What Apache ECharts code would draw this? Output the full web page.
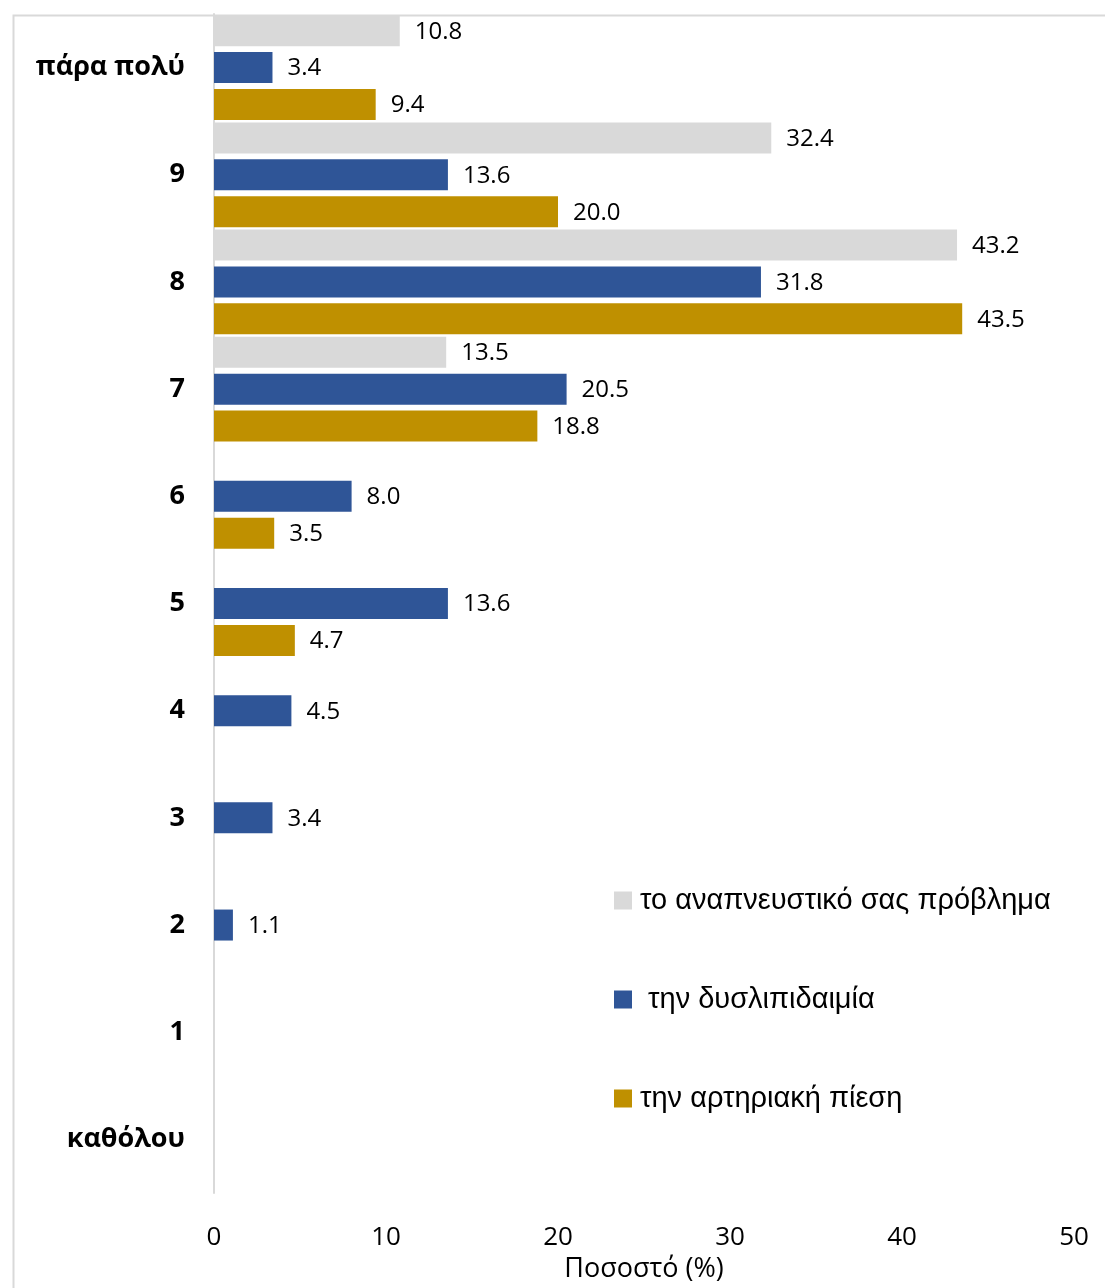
<!DOCTYPE html>
<html>
<head>
<meta charset="utf-8">
<script src="https://cdn.jsdelivr.net/npm/echarts@6/dist/echarts.min.js"></script>
<style>
  html, body { margin: 0; padding: 0; background: #fff; }
  #chart { width: 1105px; height: 1288px; }
</style>
</head>
<body>
<div id="chart"></div>
<script>
// κατηγορίες από πάνω προς τα κάτω
var categories = ['πάρα πολύ', '9', '8', '7', '6', '5', '4', '3', '2', '1', 'καθόλου']
var seriesNames = ['το αναπνευστικό σας πρόβλημα', ' την δυσλιπιδαιμία', 'την αρτηριακή πίεση']
var respiratory = [10.8, 32.4, 43.2, 13.5, null, null, null, null, null, null, null]
var dyslipidemia = [3.4, 13.6, 31.8, 20.5, 8.0, 13.6, 4.5, 3.4, 1.1, null, null]
var pressure = [9.4, 20.0, 43.5, 18.8, 3.5, 4.7, null, null, null, null, null]
var colors = ['#d9d9d9', '#2f5597', '#bf9000']

var chart = echarts.init(document.getElementById('chart'))

function makeSeries (name, data, color) {
  return {
    name: name,
    type: 'bar',
    data: data,
    barWidth: 31,
    barGap: '19%',
    itemStyle: { color: color },
    label: {
      show: true,
      position: 'right',
      distance: 15,
      offset: [0, 1],
      color: '#000',
      fontSize: 24,
      fontFamily: 'Open Sans',
      formatter: function (p) {
        return p.value == null ? '' : p.value.toFixed(1)
      }
    }
  }
}

var options = {
  animation: false,
  backgroundColor: '#fff',
  // πλαίσιο γραφήματος
  graphic: [{
    type: 'rect',
    left: 11,
    top: 13,
    shape: { width: 1200, height: 1400 },
    style: { fill: 'none', stroke: '#d9d9d9', lineWidth: 2 },
    silent: true
  }],
  grid: {
    left: 214,
    right: 31,
    top: 14,
    bottom: 95
  },
  legend: {
    orient: 'vertical',
    left: 609,
    top: 881,
    itemWidth: 18,
    itemHeight: 18,
    itemGap: 70,
    icon: 'rect',
    data: seriesNames,
    textStyle: {
      fontFamily: 'Liberation Sans',
      fontSize: 29,
      color: '#000',
      padding: [0, 0, 0, 3]
    }
  },
  xAxis: {
    type: 'value',
    min: 0,
    max: 50,
    interval: 10,
    name: 'Ποσοστό (%)',
    nameLocation: 'middle',
    nameGap: 61,
    nameTextStyle: { fontFamily: 'Open Sans', fontSize: 27, color: '#000' },
    axisLine: { show: false },
    axisTick: { show: false },
    splitLine: { show: false },
    axisLabel: {
      margin: 32,
      fontFamily: 'Open Sans',
      fontSize: 26,
      color: '#000'
    }
  },
  yAxis: {
    type: 'category',
    inverse: true,
    data: categories,
    axisLine: { show: true, lineStyle: { color: '#d9d9d9', width: 2 } },
    axisTick: { show: false },
    axisLabel: {
      margin: 29,
      fontFamily: 'Open Sans',
      fontWeight: 'bold',
      fontSize: 27,
      color: '#000'
    }
  },
  series: [
    makeSeries(seriesNames[0], respiratory, colors[0]),
    makeSeries(seriesNames[1], dyslipidemia, colors[1]),
    makeSeries(seriesNames[2], pressure, colors[2])
  ]
}

chart.setOption(options, true)
</script>
</body>
</html>
